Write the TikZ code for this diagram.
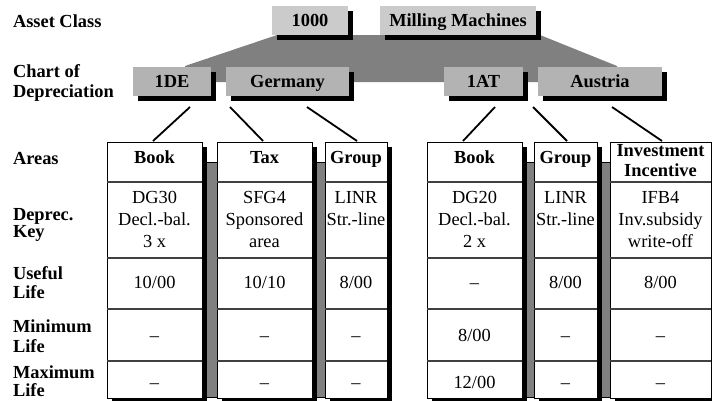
\documentclass[tikz,border=0pt]{standalone}
\usepackage{fontspec}
\setmainfont{Liberation Serif}
\definecolor{topgray}{HTML}{CBCBCB}
\definecolor{chartgray}{HTML}{B3B3B3}
\definecolor{midgray}{HTML}{808080}
\definecolor{rulegray}{HTML}{404040}
\begin{document}
\begin{tikzpicture}[x=1pt,y=-1pt,
  every node/.style={inner sep=0pt, outer sep=0pt},
  shadowed/.style={preaction={fill=black, transform canvas={shift={(4.5pt,-4.5pt)}}}},
  topbox/.style={shadowed, fill=topgray, minimum height=29pt, text height=12.2pt, text depth=0pt,
    font=\fontsize{18.4}{21}\selectfont\bfseries},
  chartbox/.style={shadowed, fill=chartgray, minimum height=29pt, text height=12.2pt, text depth=0pt,
    font=\fontsize{18.4}{21}\selectfont\bfseries},
  rowlabel/.style={anchor=north west, align=left, font=\fontsize{18.4}{19.5}\selectfont\bfseries},
  colbox/.style={shadowed, draw=black, fill=white, line width=1pt, anchor=north west, minimum height=256pt},
  graybar/.style={draw=black, fill=midgray, line width=0.8pt},
  rowline/.style={draw=rulegray, line width=1.2pt},
  cell/.style={align=center, font=\fontsize{18.4}{21.7}\selectfont},
  headcell/.style={align=center, font=\fontsize{18.4}{20}\selectfont\bfseries},
  conn/.style={draw=black, line width=1.8pt}
]
\useasboundingbox (0,0) rectangle (712,400);

% grey trapezoid behind the upper boxes
\fill[midgray] (185,66) -- (277,35) -- (540,35) -- (617,66) -- (617,82) -- (185,82) -- cycle;

% asset class boxes
\node[topbox, minimum width=76pt] (ac) at (310,20.5) {1000};
\node[topbox, minimum width=156pt] (mm) at (458,20.5) {Milling Machines};

% chart of depreciation boxes
\node[chartbox, minimum width=78pt] (de) at (172,81.5) {1DE};
\node[chartbox, minimum width=123pt] (ger) at (287.5,81.5) {Germany};
\node[chartbox, minimum width=79pt] (at) at (483.5,81.5) {1AT};
\node[chartbox, minimum width=124pt] (aus) at (600,81.5) {Austria};

% row labels
\node[rowlabel] (lac) at (13,15) {Asset Class};
\node[rowlabel] (lcd) at (13,65) {Chart of\\Depreciation};
\node[rowlabel] (lar) at (13,152) {Areas};
\node[rowlabel] (ldk) at (13,208.3) {Deprec.\\[-2.8pt]Key};
\node[rowlabel] (lul) at (13,266.7) {Useful\\[-1pt]Life};
\node[rowlabel] (lmn) at (13,320) {Minimum\\Life};
\node[rowlabel] (lmx) at (13,365.5) {Maximum\\[-1pt]Life};

% grey bars between linked columns
\draw[graybar] (202,162) rectangle (217,397);
\draw[graybar] (312,162) rectangle (325,397);
\draw[graybar] (522,162) rectangle (534,397);
\draw[graybar] (597,162) rectangle (610,397);

% columns
\foreach \n/\a/\w in {bde/107/95, tax/217/95, gde/325/62, bat/427/95, gat/534/63, inv/610/101}{
  \node[colbox, minimum width=\w pt] (\n) at (\a,142) {};
  \foreach \yy in {182,258,309,361}
    \draw[rowline] (\n.west |- 0,\yy) -- (\n.east |- 0,\yy);
}

% header row
\node[headcell, anchor=base] (h1) at (bde.north |- 0,163.3) {Book};
\node[headcell, anchor=base] (h2) at (tax.north |- 0,163.3) {Tax};
\node[headcell, anchor=base] (h3) at (gde.north |- 0,163.3) {Group};
\node[headcell, anchor=base] (h4) at (bat.north |- 0,163.3) {Book};
\node[headcell, anchor=base] (h5) at (gat.north |- 0,163.3) {Group};
\node[headcell, anchor=north] (h6) at (inv.north |- 0,144) {Investment\\Incentive};

% depreciation keys
\node[cell, anchor=north] (k1) at (bde.north |- 0,191.7) {DG30\\Decl.-bal.\\3 x};
\node[cell, anchor=north] (k2) at (tax.north |- 0,191.7) {SFG4\\Sponsored\\area};
\node[cell, anchor=north] (k3) at (gde.north |- 0,191.7) {LINR\\Str.-line};
\node[cell, anchor=north] (k4) at (bat.north |- 0,191.7) {DG20\\Decl.-bal.\\2 x};
\node[cell, anchor=north] (k5) at (gat.north |- 0,191.7) {LINR\\Str.-line};
\node[cell, anchor=north] (k6) at (inv.north |- 0,191.7) {IFB4\\Inv.subsidy\\write-off};

% useful life
\node[cell, anchor=base] (u1) at (bde.north |- 0,288.5) {10/00};
\node[cell, anchor=base] (u2) at (tax.north |- 0,288.5) {10/10};
\node[cell, anchor=base] (u3) at (gde.north |- 0,288.5) {8/00};
\node[cell, anchor=base] (u4) at (bat.north |- 0,288.5) {–};
\node[cell, anchor=base] (u5) at (gat.north |- 0,288.5) {8/00};
\node[cell, anchor=base] (u6) at (inv.north |- 0,288.5) {8/00};

% minimum life
\node[cell, anchor=base] (n1) at (bde.north |- 0,341.5) {–};
\node[cell, anchor=base] (n2) at (tax.north |- 0,341.5) {–};
\node[cell, anchor=base] (n3) at (gde.north |- 0,341.5) {–};
\node[cell, anchor=base] (n4) at (bat.north |- 0,341.5) {8/00};
\node[cell, anchor=base] (n5) at (gat.north |- 0,341.5) {–};
\node[cell, anchor=base] (n6) at (inv.north |- 0,341.5) {–};

% maximum life
\node[cell, anchor=base] (x1) at (bde.north |- 0,388.5) {–};
\node[cell, anchor=base] (x2) at (tax.north |- 0,388.5) {–};
\node[cell, anchor=base] (x3) at (gde.north |- 0,388.5) {–};
\node[cell, anchor=base] (x4) at (bat.north |- 0,388.5) {12/00};
\node[cell, anchor=base] (x5) at (gat.north |- 0,388.5) {–};
\node[cell, anchor=base] (x6) at (inv.north |- 0,388.5) {–};

% connectors
\coordinate (s1) at (190,107); \coordinate (e1) at (153,141);
\coordinate (s2) at (230,107); \coordinate (e2) at (263,141);
\coordinate (s3) at (307,107); \coordinate (e3) at (357,141);
\coordinate (s4) at (495,107); \coordinate (e4) at (463,141);
\coordinate (s5) at (533,107); \coordinate (e5) at (567,141);
\coordinate (s6) at (612,107); \coordinate (e6) at (662,141);
\foreach \i in {1,...,6} \draw[conn] (s\i) -- (e\i);
\end{tikzpicture}
\end{document}
